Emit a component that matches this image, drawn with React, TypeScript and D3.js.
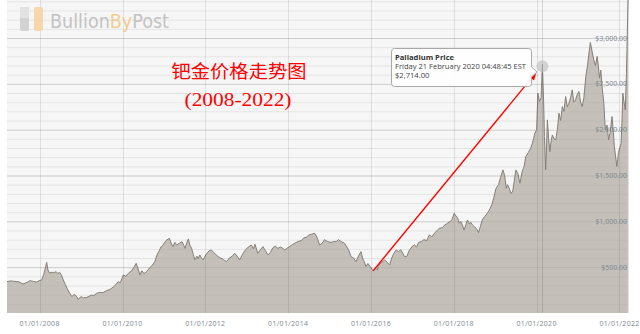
import React from "react";
import * as d3 from "d3";

const W = 640;
const H = 334;

// Palladium price (USD/oz)
const dates: string[] = [
  "2007-03-19","2007-04-19","2007-05-26","2007-07-02","2007-08-07","2007-09-13","2007-10-08","2007-11-06","2007-12-05",
  "2008-01-01","2008-01-19","2008-02-06","2008-03-03","2008-03-14","2008-03-28","2008-04-19","2008-05-01","2008-05-26","2008-06-10","2008-06-25","2008-07-13","2008-07-27","2008-08-15","2008-08-29","2008-09-20","2008-10-12","2008-10-27","2008-11-10","2008-11-24","2008-12-05",
  "2009-01-01","2009-01-19","2009-02-21","2009-04-01","2009-04-19","2009-05-19","2009-06-14","2009-07-13","2009-08-15","2009-09-13","2009-10-19","2009-11-24","2009-12-12",
  "2010-01-08","2010-01-30","2010-02-21","2010-03-21","2010-04-12","2010-05-01","2010-05-19","2010-06-03","2010-06-21","2010-07-09","2010-07-31","2010-08-26","2010-09-20","2010-10-12","2010-11-03","2010-11-24","2010-12-05","2010-12-23",
  "2011-01-19","2011-02-17","2011-03-07","2011-03-21","2011-04-08","2011-04-23","2011-05-16","2011-06-10","2011-06-25","2011-07-06","2011-07-20","2011-08-04","2011-08-18","2011-09-02","2011-09-16","2011-10-01","2011-10-19","2011-10-30","2011-11-14","2011-11-28","2011-12-12",
  "2012-01-08","2012-02-03","2012-02-24","2012-03-14","2012-04-01","2012-04-23","2012-05-16","2012-06-07","2012-07-06","2012-07-31","2012-08-26","2012-09-16","2012-10-08","2012-10-30","2012-11-24","2012-12-20",
  "2013-01-15","2013-02-10","2013-02-28","2013-03-14","2013-04-08","2013-05-01","2013-05-23","2013-06-14","2013-07-06","2013-07-27","2013-08-18","2013-09-09","2013-10-01","2013-10-27","2013-12-02",
  "2014-01-01","2014-01-30","2014-02-28","2014-03-28","2014-04-27","2014-05-19","2014-06-10","2014-07-02","2014-07-27","2014-08-22","2014-09-06","2014-09-20","2014-10-05","2014-10-27","2014-11-17","2014-12-16",
  "2015-01-15","2015-02-06","2015-02-28","2015-03-21","2015-04-12","2015-05-12","2015-06-03","2015-06-21","2015-07-09","2015-07-31","2015-08-22","2015-09-13","2015-10-05","2015-10-19","2015-11-03","2015-11-17","2015-12-05",
  "2016-01-20","2016-02-10","2016-02-28","2016-03-03","2016-03-21","2016-04-12","2016-05-01","2016-05-26","2016-06-14","2016-07-02","2016-07-20","2016-08-11","2016-08-29","2016-09-20","2016-10-08","2016-10-23","2016-11-14","2016-12-02",
  "2017-01-01","2017-01-19","2017-02-06","2017-02-24","2017-03-21","2017-04-12","2017-05-08","2017-05-30","2017-06-21","2017-07-13","2017-08-07","2017-08-26","2017-09-20","2017-10-12","2017-11-06","2017-12-02","2017-12-16",
  "2018-01-04","2018-01-19","2018-02-03","2018-02-17","2018-03-03","2018-03-17","2018-04-01","2018-04-16","2018-05-01","2018-05-19","2018-05-30","2018-06-14","2018-07-02","2018-07-20","2018-08-07","2018-08-22","2018-09-09","2018-09-27","2018-10-19","2018-11-10","2018-12-02","2018-12-20",
  "2019-01-08","2019-01-30","2019-02-17","2019-03-10","2019-03-25","2019-04-08","2019-04-19","2019-05-05","2019-05-19","2019-06-03","2019-06-18","2019-07-02","2019-07-20","2019-08-07","2019-08-26","2019-09-13","2019-09-27","2019-10-19","2019-11-10","2019-11-24","2019-12-05","2019-12-16",
  "2020-01-01","2020-01-12","2020-01-26","2020-02-10","2020-02-21","2020-03-03","2020-03-10","2020-03-21","2020-03-28","2020-04-05","2020-04-16","2020-04-27","2020-05-08","2020-05-19","2020-06-03","2020-06-18","2020-07-02","2020-07-16","2020-07-31","2020-08-15","2020-08-29","2020-09-13","2020-09-27","2020-10-12","2020-10-27","2020-11-10","2020-11-24","2020-12-09","2020-12-23",
  "2021-01-08","2021-01-23","2021-02-06","2021-02-21","2021-03-10","2021-03-25","2021-04-08","2021-04-19","2021-05-05","2021-05-19","2021-06-03","2021-06-18","2021-06-28","2021-07-09","2021-07-20","2021-07-31","2021-08-15","2021-08-29","2021-09-13","2021-09-27","2021-10-12","2021-10-27","2021-11-06","2021-11-17","2021-11-28","2021-12-09","2021-12-23",
  "2022-01-15","2022-01-23","2022-01-30","2022-02-10","2022-02-21","2022-03-03","2022-03-17"
];

const prices: number[] = [
  342,350,345,340,316,335,353,345,338,
  355,360,420,553,470,436,445,440,450,430,444,410,360,310,270,220,178,200,196,175,149,
  180,165,171,195,190,215,225,222,245,258,290,342,330,
  415,400,433,460,500,542,480,415,460,430,451,490,520,560,640,688,720,742,
  790,815,760,724,770,742,760,778,740,706,760,808,740,706,640,579,620,590,633,600,579,
  640,677,688,660,640,615,600,585,560,600,620,651,620,579,640,690,
  720,742,700,750,651,690,724,680,633,660,710,730,706,720,688,
  715,740,761,780,790,820,826,850,860,870,840,800,742,760,800,778,
  770,780,778,800,780,761,720,680,615,600,560,620,670,600,560,506,540,
  460,490,470,506,540,560,579,550,524,600,650,688,670,690,651,615,620,680,
  730,742,720,770,780,800,790,852,830,870,900,925,930,960,979,1000,1020,
  1088,1060,1040,979,1000,960,906,960,1015,970,990,961,940,920,877,940,1015,1050,1080,1124,1180,1260,
  1361,1400,1480,1561,1500,1361,1400,1360,1307,1320,1440,1561,1520,1416,1540,1600,1706,1750,1798,1850,1900,1962,
  2000,2398,2307,2350,2714,2300,1925,1561,1800,2107,1900,1761,1880,1943,1900,1889,2000,2180,2100,2252,2200,2361,2250,2289,2350,2434,2300,2325,2380,
  2416,2300,2252,2350,2580,2700,2850,2951,2850,2762,2700,2798,2700,2562,2650,2471,2300,1998,2050,1889,1980,2143,2000,1816,1700,1598,1750,
  1852,2100,2398,2300,2216,2600,3420
];

const xTickDates: string[] = ["2008-01-01","2010-01-01","2012-01-01","2014-01-01","2016-01-01","2018-01-01","2020-01-01","2022-01-01"];
const yTickValues: number[] = [500, 1000, 1500, 2000, 2500, 3000];

const tooltipLines: string[] = ["Palladium Price", "Friday 21 February 2020 04:48:45 EST", "$2,714.00"];
const titleLines: string[] = ["钯金价格走势图", "(2008-2022)"];
const arrowFrom = "2016-01-20";
const arrowTo = "2020-02-21";

const parse = d3.timeParse("%Y-%m-%d");

export default function App() {
  const data = dates.map((d, i) => ({ date: parse(d) as Date, value: prices[i] }));
  const left = 7, right = 628, bottom = 313, top = 0;

  const x = d3.scaleTime()
    .domain([parse("2007-03-19") as Date, parse("2022-03-17") as Date])
    .range([left, right]);
  const y = d3.scaleLinear().domain([0, 3000]).range([bottom, 38]);

  const area = d3.area<{ date: Date; value: number }>()
    .x(d => x(d.date)).y0(bottom).y1(d => y(d.value));
  const line = d3.line<{ date: Date; value: number }>()
    .x(d => x(d.date)).y(d => y(d.value));

  const minorTicks = d3.range(100, 3500, 100);
  const fmtY = d3.format("$,.2f");
  const fmtX = d3.timeFormat("%m/%d/%Y");

  const pF = data.find(d => dates[data.indexOf(d)] === arrowFrom)!;
  const pT = data.find(d => dates[data.indexOf(d)] === arrowTo)!;
  const ax0 = x(pF.date), ay0 = y(pF.value);
  const ax1 = x(pT.date) - 6, ay1 = y(pT.value) + 8;
  const ang = Math.atan2(ay1 - ay0, ax1 - ax0);
  const ah = 8, aw = 3.5;
  const headBase = [ax1 - ah * Math.cos(ang), ay1 - ah * Math.sin(ang)];
  const head = [
    [ax1, ay1],
    [headBase[0] + aw * Math.sin(ang), headBase[1] - aw * Math.cos(ang)],
    [headBase[0] - aw * Math.sin(ang), headBase[1] + aw * Math.cos(ang)],
  ];

  const px = x(pT.date), py = y(pT.value);
  // tooltip box
  const bx0 = 391.5, bx1 = 531.5, by0 = 48.5, by1 = 86.5;
  const tipY = 72, tipX = 537;
  const tipPath = `M${bx0 + 3},${by0} H${bx1 - 3} Q${bx1},${by0} ${bx1},${by0 + 3} V${tipY - 5} L${tipX},${tipY} L${bx1},${tipY + 5} V${by1 - 3} Q${bx1},${by1} ${bx1 - 3},${by1} H${bx0 + 3} Q${bx0},${by1} ${bx0},${by1 - 3} V${by0 + 3} Q${bx0},${by0} ${bx0 + 3},${by0} Z`;

  return (
    <div style={{ position: "fixed", left: 0, top: 0 }}>
      <svg width={W} height={H} style={{ display: "block", background: "#ffffff" }}>
        <rect x={left} y={top} width={right - left} height={bottom - top} fill="#f6f6f6" />
        {minorTicks.map(v => (
          <line key={"m" + v} x1={left} x2={right} y1={y(v) + 0.5} y2={y(v) + 0.5}
            stroke="#000" strokeOpacity={v % 500 === 0 ? 0.1 : 0.045} />
        ))}
        <path d={area(data) || ""} fill="#c4c0b9" />
        <path d={line(data) || ""} fill="none" stroke="#858079" strokeWidth={1} />
        {minorTicks.map(v => (
          <line key={"o" + v} x1={left} x2={right} y1={y(v) + 0.5} y2={y(v) + 0.5}
            stroke="#000" strokeOpacity={v % 500 === 0 ? 0.07 : 0.03} />
        ))}
        {xTickDates.map(t => {
          const xx = Math.round(x(parse(t) as Date)) + 0.5;
          return <line key={"v" + t} x1={xx} x2={xx} y1={top} y2={bottom} stroke="#000" strokeOpacity={0.09} />;
        })}
        <line x1={Math.round(px) + 0.5} x2={Math.round(px) + 0.5} y1={top} y2={bottom} stroke="#000" strokeOpacity={0.12} />
        <line x1={right + 0.5} x2={right + 0.5} y1={top} y2={bottom} stroke="#000" strokeOpacity={0.1} />

        {/* y labels */}
        {yTickValues.map(v => (
          <text key={"yl" + v} x={627} y={y(v) + 2.5} textAnchor="end" fontFamily="Open Sans, sans-serif"
            fontSize={7} fill="#7d8894">{fmtY(v)}</text>
        ))}
        {/* x labels */}
        {xTickDates.map(t => (
          <text key={"xl" + t} x={x(parse(t) as Date)} y={326} textAnchor="middle" fontFamily="Open Sans, sans-serif"
            fontSize={7} letterSpacing={0.3} fill="#7d8894">{fmtX(parse(t) as Date)}</text>
        ))}

        {/* logo */}
        <rect x={20} y={7} width={9} height={24} rx={2} fill="#d2d2d2" />
        <rect x={20} y={7} width={9} height={11} rx={2} fill="#e2e2e2" />
        <rect x={34} y={7} width={9} height={24} rx={2} fill="#f6d7aa" />
        <text x={50} y={28} fontFamily="DejaVu Sans Condensed, DejaVu Sans, sans-serif" fontSize={19}
          textLength={119} lengthAdjust="spacingAndGlyphs" fill="#c3c3c3">
          Bullion<tspan fill="#f2cd92">By</tspan>Post
        </text>

        {/* title */}
        <text x={239} y={78} textAnchor="middle" fontFamily="Noto Sans CJK SC, sans-serif" fontSize={18}
          textLength={135} lengthAdjust="spacingAndGlyphs" fill="#ff0000">{titleLines[0]}</text>
        <text x={238} y={106} textAnchor="middle" fontFamily="Liberation Serif, serif" fontSize={19}
          textLength={107} lengthAdjust="spacingAndGlyphs" fill="#ff0000">{titleLines[1]}</text>

        {/* arrow */}
        <line x1={ax0} y1={ay0} x2={headBase[0]} y2={headBase[1]} stroke="#ff0000" strokeWidth={1.4} />
        <polygon points={head.map(p => p.join(",")).join(" ")} fill="#ff0000" />

        {/* marker */}
        <circle cx={px} cy={py + 2} r={6} fill="#bdbdbd" fillOpacity={0.6} />

        {/* tooltip */}
        <path d={tipPath} fill="#ffffff" fillOpacity={0.9} stroke="#a8a8a8" strokeWidth={1} />
        <text x={395} y={60} fontFamily="Open Sans, sans-serif" fontSize={7.6} fontWeight="bold" fill="#333">{tooltipLines[0]}</text>
        <text x={395} y={69} fontFamily="Open Sans, sans-serif" fontSize={7.6} fill="#444"
          textLength={131} lengthAdjust="spacingAndGlyphs">{tooltipLines[1]}</text>
        <text x={395} y={78} fontFamily="Open Sans, sans-serif" fontSize={7.6} fill="#444">{tooltipLines[2]}</text>
      </svg>
    </div>
  );
}
